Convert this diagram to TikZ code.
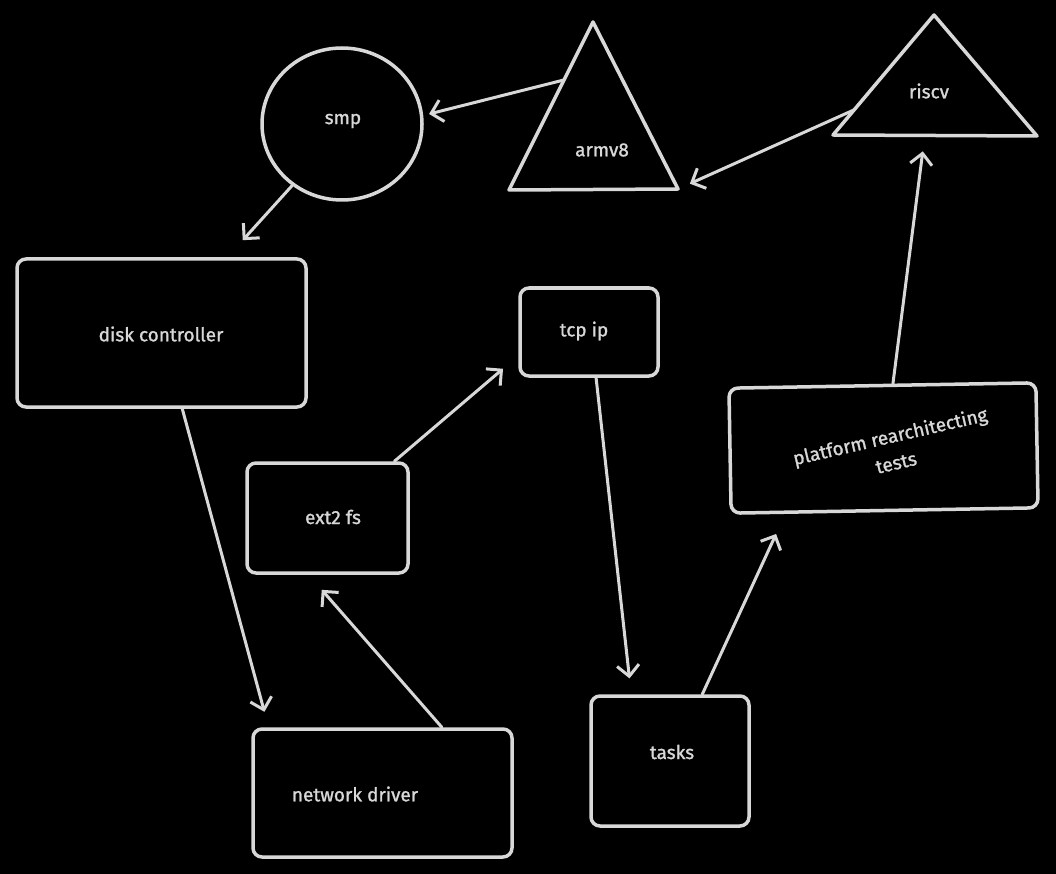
\documentclass[tikz,border=0pt]{standalone}
\usepackage{fontspec}
\setmainfont{Fira Sans}[UprightFeatures={FakeBold=1.2}]
\usetikzlibrary{arrows.meta,calc,shapes.geometric}
\definecolor{ink}{RGB}{216,216,216}
\begin{document}
\begin{tikzpicture}[x=1pt,y=-1pt,
  box/.style={draw=ink,line width=3.5pt,rounded corners=9pt,inner sep=0pt},
  lbl/.style={text=ink,font=\fontsize{19}{27}\selectfont},
  tri/.style={draw=ink,line width=3.5pt,line join=round},
  arr/.style={draw=ink,line width=3pt,line cap=round,-{Straight Barb[length=11pt,width=22pt,line width=3pt]}}]
\useasboundingbox (0,0) rectangle (1056,874);
\fill[black] (0,0) rectangle (1056,874);

% shapes
\node[draw=ink,line width=3.5pt,ellipse,minimum width=160pt,minimum height=152pt,inner sep=0pt] (smp) at (342,124) {};
\coordinate (aT) at (593,22);
\coordinate (aL) at (509,190);
\coordinate (aR) at (678,189);
\draw[tri] (aT) -- (aL) -- (aR) -- cycle;
\coordinate (rT) at (934,15);
\coordinate (rL) at (833,135);
\coordinate (rR) at (1037,136);
\draw[tri] (rT) -- (rL) -- (rR) -- cycle;

\node[box,minimum width=289pt,minimum height=148pt] (disk) at (161.5,333) {};
\node[box,minimum width=161pt,minimum height=110pt] (ext) at (327.5,518) {};
\node[box,minimum width=138pt,minimum height=88pt] (tcp) at (589,332) {};
\node[box,minimum width=259pt,minimum height=128pt] (net) at (382.5,793) {};
\node[box,minimum width=158pt,minimum height=130pt] (tasks) at (670,761) {};
\node[box,minimum width=307pt,minimum height=125pt,rotate=1] (plat) at (883.5,448) {};

% labels
\node[lbl] (smpL) at (343,121) {smp};
\node[lbl] (armL) at (602,150) {armv8};
\node[lbl] (riscL) at (929,91) {riscv};
\node[lbl] (diskL) at (161,334) {disk controller};
\node[lbl] (extL) at (333,517) {ext2 fs};
\node[lbl] (tcpL) at (584,331) {tcp ip};
\node[lbl] (netL) at (355,794) {network driver};
\node[lbl] (tasksL) at (672,752) {tasks};
\node[lbl,rotate=13,align=center] (platL) at (893,449) {platform rearchitecting\\tests};

% connectors
\draw[arr,shorten >=6pt] ($(aT)!0.345!(aL)$) -- (smp.6);
\draw[arr,shorten >=13pt] ($(rT)!0.79!(rL)$) -- (aR);
\draw[arr,shorten >=16pt] ($(plat.north west)!0.534!(plat.north east)$) -- ($(rL)!0.45!(rR)$);
\draw[arr,shorten >=23pt] (smp.231) -- ($(disk.north west)!0.725!(disk.north east)$);
\draw[arr,shorten >=16pt] ($(disk.south west)!0.571!(disk.south east)$) -- ($(net.north west)!0.066!(net.north east)$);
\draw[arr,shorten >=20pt] ($(net.north west)!0.726!(net.north east)$) -- ($(ext.south west)!0.385!(ext.south east)$);
\draw[arr,shorten >=20pt] ($(ext.north west)!0.907!(ext.north east)$) -- ($(tcp.south west)!0.24!(tcp.north west)$);
\draw[arr,shorten >=16pt] ($(tcp.south west)!0.55!(tcp.south east)$) -- ($(tasks.north west)!0.26!(tasks.north east)$);
\draw[arr,shorten >=22pt] ($(tasks.north west)!0.70!(tasks.north east)$) -- ($(plat.south west)!0.18!(plat.south east)$);
\end{tikzpicture}
\end{document}
